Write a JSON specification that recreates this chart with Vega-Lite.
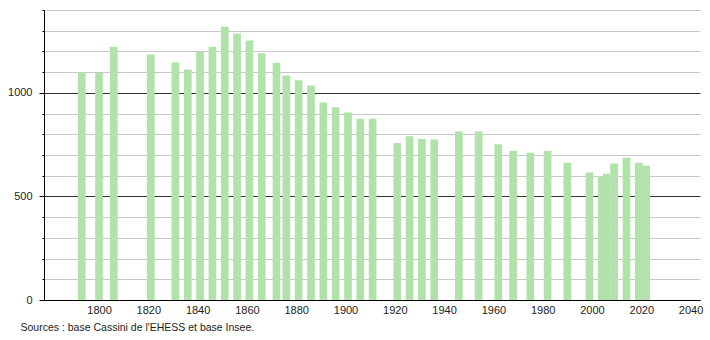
{
  "$schema": "https://vega.github.io/schema/vega-lite/v6.json",
  "width": 656,
  "height": 290,
  "autosize": "none",
  "padding": {"left": 44, "top": 10, "right": 10, "bottom": 40},
  "background": "white",
  "title": {
    "text": "Sources : base Cassini de l'EHESS et base Insee.",
    "orient": "bottom",
    "anchor": "start",
    "frame": "group",
    "dx": -23.5,
    "offset": 8,
    "font": "Liberation Sans",
    "fontSize": 10.5,
    "fontWeight": "normal",
    "color": "#222"
  },
  "config": {
    "view": {"stroke": null},
    "axis": {"labelFont": "Liberation Sans", "labelFontSize": 11, "labelColor": "#222"}
  },
  "data": {
    "values": [
      {"annee": 1793, "population": 1097},
      {"annee": 1800, "population": 1097},
      {"annee": 1806, "population": 1222},
      {"annee": 1821, "population": 1185},
      {"annee": 1831, "population": 1147},
      {"annee": 1836, "population": 1113},
      {"annee": 1841, "population": 1198},
      {"annee": 1846, "population": 1222},
      {"annee": 1851, "population": 1319},
      {"annee": 1856, "population": 1287},
      {"annee": 1861, "population": 1253},
      {"annee": 1866, "population": 1191},
      {"annee": 1872, "population": 1145},
      {"annee": 1876, "population": 1084},
      {"annee": 1881, "population": 1061},
      {"annee": 1886, "population": 1035},
      {"annee": 1891, "population": 954},
      {"annee": 1896, "population": 930},
      {"annee": 1901, "population": 905},
      {"annee": 1906, "population": 875},
      {"annee": 1911, "population": 875},
      {"annee": 1921, "population": 758},
      {"annee": 1926, "population": 790},
      {"annee": 1931, "population": 777},
      {"annee": 1936, "population": 775},
      {"annee": 1946, "population": 814},
      {"annee": 1954, "population": 813},
      {"annee": 1962, "population": 752},
      {"annee": 1968, "population": 721},
      {"annee": 1975, "population": 711},
      {"annee": 1982, "population": 719},
      {"annee": 1990, "population": 663},
      {"annee": 1999, "population": 616},
      {"annee": 2004, "population": 599},
      {"annee": 2006, "population": 610},
      {"annee": 2009, "population": 659},
      {"annee": 2014, "population": 687},
      {"annee": 2019, "population": 663},
      {"annee": 2022, "population": 648}
    ]
  },
  "mark": {"type": "bar", "width": 7.7, "color": "#b0e2aa"},
  "encoding": {
    "x": {
      "field": "annee",
      "type": "quantitative",
      "scale": {"domain": [1779.7, 2041.8], "nice": false, "zero": false},
      "axis": {
        "title": null,
        "values": [1800, 1820, 1840, 1860, 1880, 1900, 1920, 1940, 1960, 1980, 2000, 2020, 2040],
        "format": "d",
        "ticks": false,
        "grid": false,
        "domainColor": "#000",
        "domainWidth": 1,
        "labelPadding": 4,
        "labelFlush": false
      }
    },
    "y": {
      "field": "population",
      "type": "quantitative",
      "scale": {"domain": [0, 1400], "nice": false},
      "axis": {
        "title": null,
        "values": [0, 100, 200, 300, 400, 500, 600, 700, 800, 900, 1000, 1100, 1200, 1300, 1400],
        "labelExpr": "datum.value % 500 === 0 ? datum.value : ''",
        "grid": true,
        "gridColor": {"condition": {"test": "datum.value % 500 === 0", "value": "#333"}, "value": "#c8c8c8"},
        "gridWidth": 1,
        "domainColor": "#000",
        "tickColor": "#000",
        "tickSize": {"condition": {"test": "datum.value % 500 === 0", "value": 5}, "value": 2},
        "labelPadding": 7,
        "labelFlush": false
      }
    }
  }
}
